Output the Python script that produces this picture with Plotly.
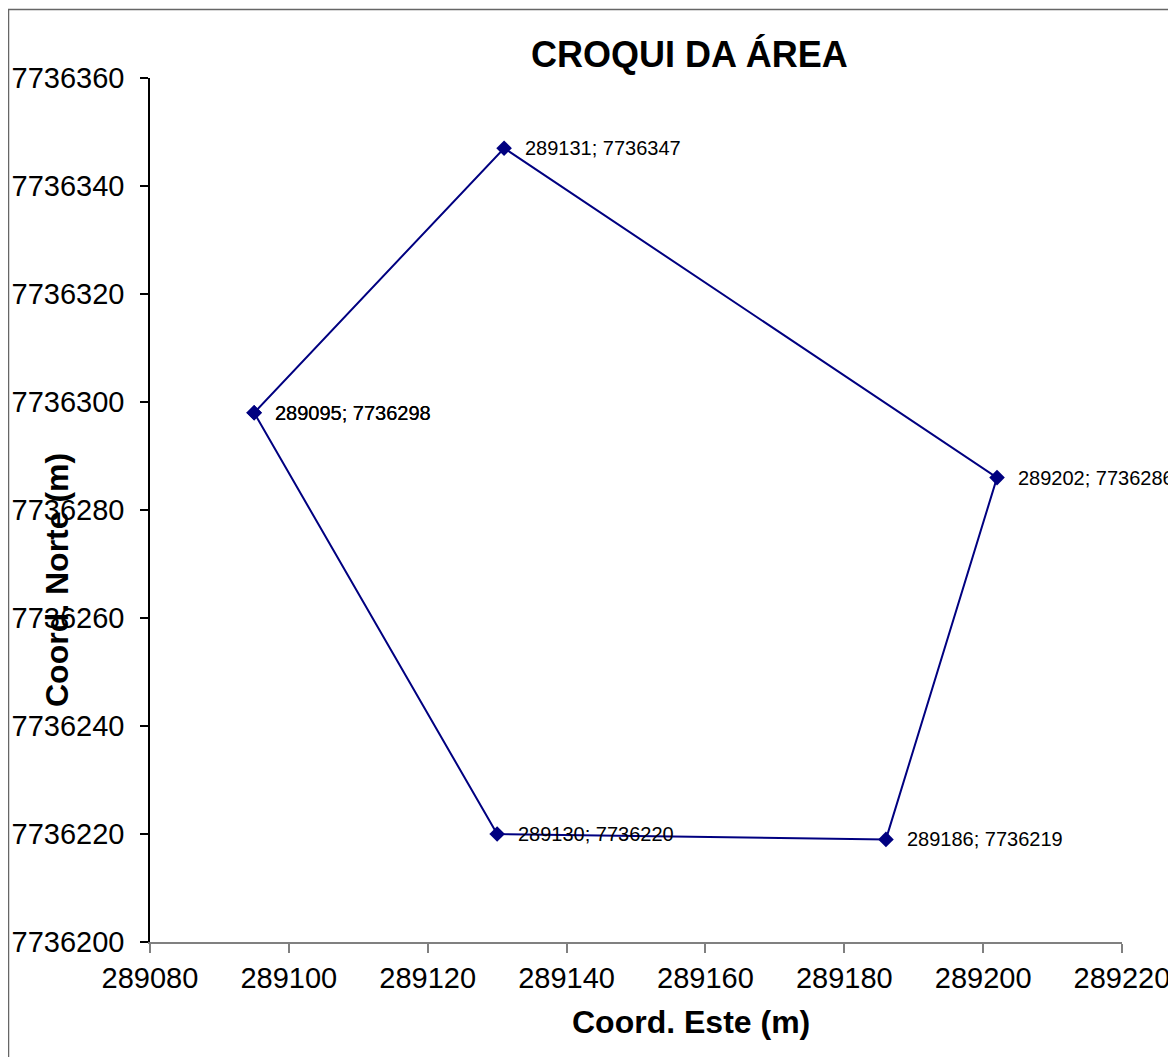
import plotly.graph_objects as go

# Data (closed polygon: first point repeated at end)
este = [289095, 289131, 289202, 289186, 289130, 289095]
norte = [7736298, 7736347, 7736286, 7736219, 7736220, 7736298]
labels = [f"{x}; {y}" for x, y in zip(este, norte)]

x_ticks = [289080, 289100, 289120, 289140, 289160, 289180, 289200, 289220]
y_ticks = [7736200, 7736220, 7736240, 7736260, 7736280, 7736300, 7736320, 7736340, 7736360]

FONT = "Liberation Sans, Arial, sans-serif"
OFF = 8  # page body margin
W, H = 1168, 1049
L, T = 142, 70
PW, PH = 972, 864
R = W - L - PW
B = H - T - PH

fig = go.Figure()
fig.add_trace(go.Scatter(
    x=este, y=norte, mode="lines+markers",
    line=dict(color="#000080", width=2),
    marker=dict(symbol="diamond", size=12, color="#000080"),
    hoverinfo="skip", showlegend=False, cliponaxis=False,
))

for x, y, t in zip(este, norte, labels):
    fig.add_annotation(x=x, y=y, text=t, showarrow=False, xanchor="left",
                       yanchor="middle", xshift=19, yshift=0,
                       font=dict(family=FONT, size=20, color="black"))

def px(xs):
    return (xs - OFF - L) / PW

def py(ys):
    return (T + PH - (ys - OFF)) / PH

# Title
fig.add_annotation(x=px(689), y=py(54), xref="paper", yref="paper",
                   text="<b>CROQUI DA ÁREA</b>", showarrow=False,
                   xanchor="center", yanchor="middle",
                   font=dict(family=FONT, size=36, color="black"))
# X axis title
fig.add_annotation(x=px(691), y=py(1022), xref="paper", yref="paper",
                   text="<b>Coord. Este (m)</b>", showarrow=False,
                   xanchor="center", yanchor="middle",
                   font=dict(family=FONT, size=32, color="black"))
# Y axis title
fig.add_annotation(x=px(57), y=py(580), xref="paper", yref="paper",
                   text="<b>Coord. Norte (m)</b>", showarrow=False, textangle=-90,
                   xanchor="center", yanchor="middle",
                   font=dict(family=FONT, size=32, color="black"))

# Outer chart border (right/bottom edges fall outside the visible page)
fig.add_shape(type="rect", xref="paper", yref="paper",
              x0=px(8.5), x1=px(1300), y0=py(1300), y1=py(9.5),
              line=dict(color="#666666", width=1.5), fillcolor="rgba(0,0,0,0)")

fig.update_xaxes(range=[289080, 289220], tickvals=x_ticks,
                 ticktext=[str(v) for v in x_ticks], automargin=False,
                 showgrid=False, zeroline=False, showline=True,
                 linecolor="#808080", linewidth=1.5,
                 ticks="outside", ticklen=9, tickcolor="#808080", tickwidth=1.5,
                 tickfont=dict(family=FONT, size=29, color="black"))
fig.update_yaxes(range=[7736200, 7736360], tickvals=y_ticks,
                 ticktext=[str(v) for v in y_ticks], automargin=False,
                 showgrid=False, zeroline=False, showline=True,
                 linecolor="black", linewidth=1.5,
                 ticks="outside", ticklen=8, tickcolor="black", tickwidth=1.5,
                 ticklabelstandoff=10,
                 tickfont=dict(family=FONT, size=29, color="black"))

fig.update_layout(width=W, height=H, margin=dict(l=L, r=R, t=T, b=B),
                  paper_bgcolor="white", plot_bgcolor="white",
                  font=dict(family=FONT, color="black"), showlegend=False)

fig.write_html("out.html")
